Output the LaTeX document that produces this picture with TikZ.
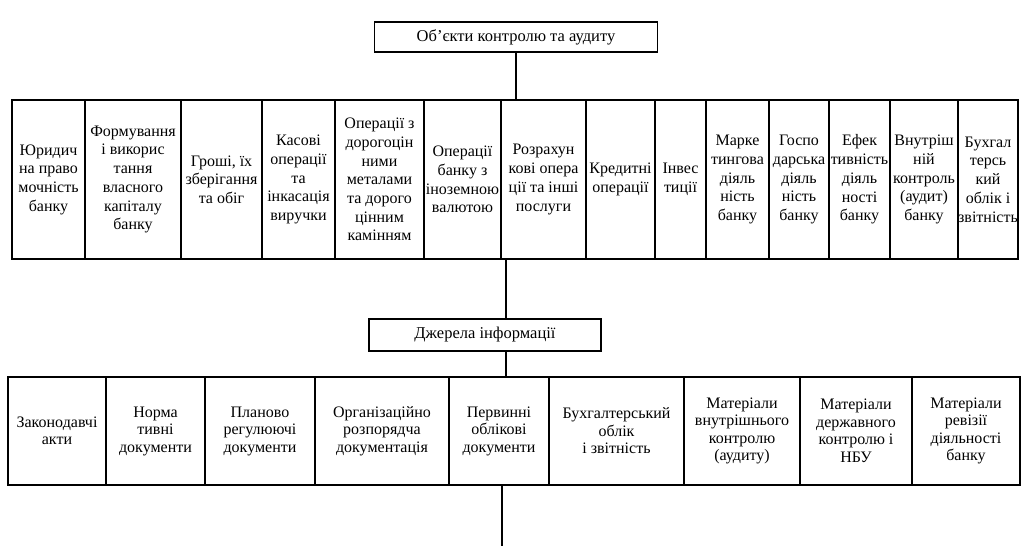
\documentclass[tikz,border=0pt]{standalone}
\usepackage{fontspec}
\setmainfont{Liberation Serif}
\begin{document}
\begin{tikzpicture}[x=1pt, y=-1pt,
    cell/.style={draw, line width=1.2pt, align=center, inner ysep=1pt, inner xsep=0pt,
        font=\fontsize{16}{18.7}\selectfont},
    src/.style={cell, font=\fontsize{16}{17.5}\selectfont},
    head/.style={cell, font=\fontsize{16.5}{18}\selectfont}]
        \useasboundingbox (0,0) rectangle (1028,557);

        % --- Об'єкти контролю та аудиту ---
        \node[head, minimum width=283pt, minimum height=30pt] (obj) at (516,37) {Об’єкти контролю та аудиту};

        % Перший ряд
        \foreach \a/\b/\txt [count=\i] in {
            12/85/{Юридич\\на право\\мочність\\банку},
            85/181/{Формування\\і викорис\\тання\\власного\\капіталу\\банку},
            181/262/{Гроші, їх\\зберігання\\та обіг},
            262/335/{Касові\\операції\\та\\інкасація\\виручки},
            335/424/{Операції з\\дорогоцін\\ними\\металами\\та дорого\\цінним\\камінням},
            424/501/{Операції\\банку з\\іноземною\\валютою},
            501/586/{Розрахун\\кові опера\\ції та інші\\послуги},
            586/655/{Кредитні\\операції},
            655/706/{Інвес\\тиції},
            706/769/{Марке\\тингова\\діяль\\ність\\банку},
            769/829/{Госпо\\дарська\\діяль\\ність\\банку},
            829/890/{Ефек\\тивність\\діяль\\ності\\банку},
            890/958/{Внутріш\\ній\\контроль\\(аудит)\\банку},
            958/1018/{Бухгал\\терсь\\кий\\облік і\\звітність}} {
            \pgfmathsetmacro\cx{(\a+\b)/2}
            \pgfmathsetmacro\w{\b-\a}
            \node[cell, minimum width=\w pt, minimum height=159pt] (o\i) at (\cx,179.5) {\txt};
        }

        % --- Джерела інформації ---
        \node[head, minimum width=232pt, minimum height=32pt] (info) at (485,335) {Джерела інформації};

        % Другий ряд
        \foreach \a/\b/\txt [count=\i] in {
            8/106/{Законодавчі\\акти},
            106/205/{Норма\\тивні\\документи},
            205/315/{Планово\\регулюючі\\документи},
            315/449/{Організаційно\\розпорядча\\документація},
            449/549/{Первинні\\облікові\\документи},
            549/684/{Бухгалтерський\\облік\\і звітність},
            684/800/{Матеріали\\внутрішнього\\контролю\\(аудиту)},
            800/912/{Матеріали\\державного\\контролю і\\НБУ},
            912/1020/{Матеріали\\ревізії\\діяльності\\банку}} {
            \pgfmathsetmacro\cx{(\a+\b)/2}
            \pgfmathsetmacro\w{\b-\a}
            \node[src, minimum width=\w pt, minimum height=108pt] (d\i) at (\cx,431) {\txt};
        }

        % --- Лінії зв'язку ---
        \coordinate (trunk) at (506,0);
        \coordinate (tail) at (502,546);
        \draw[line width=1.1pt] (obj.south) -- (obj.south |- o7.north);
        \draw[line width=1.1pt] (o7.south -| trunk) -- (info.north -| trunk);
        \draw[line width=1.1pt] (info.south -| trunk) -- (d5.north -| trunk);
        \draw[line width=1.1pt] (d5.south -| tail) -- (tail);
    \end{tikzpicture}
\end{document}
